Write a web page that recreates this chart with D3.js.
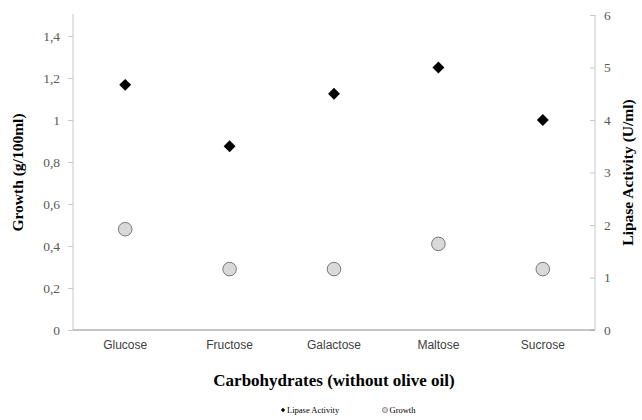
<!DOCTYPE html>
<html>
<head>
<meta charset="utf-8">
<script src="https://cdn.jsdelivr.net/npm/d3@7"></script>
<style>
  body { margin: 0; background: #fff; }
  svg { display: block; }
</style>
</head>
<body>
<div id="chart"></div>
<script>
// Carbohydrate source vs. growth and lipase activity
const categories = ["Glucose", "Fructose", "Galactose", "Maltose", "Sucrose"];
const lipaseActivity = [4.67, 3.5, 4.5, 5.0, 4.0];   // U/ml, right axis
const growth = [0.48, 0.29, 0.29, 0.41, 0.29];       // g/100ml, left axis
const leftTicks = [0, 0.2, 0.4, 0.6, 0.8, 1, 1.2, 1.4];
const rightTicks = [0, 1, 2, 3, 4, 5, 6];

const W = 642, H = 420;
const margin = { left: 73, right: 47, top: 15, bottom: 90 };
const x0 = margin.left, x1 = W - margin.right;
const yBottom = H - margin.bottom, yTop = margin.top;

const svg = d3.select("#chart").append("svg")
  .attr("width", W).attr("height", H);

const x = d3.scaleBand().domain(categories).range([x0, x1]);
const yL = d3.scaleLinear().domain([0, 1.5]).range([yBottom, yTop]);
const yR = d3.scaleLinear().domain([0, 6]).range([yBottom, yTop]);

const fmt = d => String(d).replace(".", ",");
const serif = "'Liberation Serif', 'Times New Roman', serif";
const sans = "'Liberation Sans', Arial, sans-serif";

// Left axis
const gL = svg.append("g").attr("transform", `translate(${x0},0)`)
  .call(d3.axisLeft(yL).tickValues(leftTicks).tickFormat(fmt).tickSize(5).tickPadding(8));
gL.select(".domain").attr("stroke", "#c8c8c8").attr("d", `M0,${yBottom}V${yTop - 1}`);
gL.selectAll(".tick line").attr("stroke", "#c8c8c8");
gL.selectAll(".tick text").attr("font-family", serif).attr("font-size", 13.5).attr("fill", "#595959");

// Right axis (ticks drawn inward)
const gR = svg.append("g").attr("transform", `translate(${x1},0)`)
  .call(d3.axisRight(yR).tickValues(rightTicks).tickFormat(d3.format("d")).tickSize(0).tickPadding(9));
gR.select(".domain").attr("stroke", "#c8c8c8").attr("d", `M0,${yBottom}V${yTop}`);
gR.selectAll(".tick").append("line").attr("x1", -5).attr("x2", 0).attr("stroke", "#c8c8c8");
gR.selectAll(".tick text").attr("font-family", serif).attr("font-size", 13.5).attr("fill", "#595959");

// Category axis
const gX = svg.append("g").attr("transform", `translate(0,${yBottom})`)
  .call(d3.axisBottom(x).tickSize(0).tickPadding(10));
gX.select(".domain").attr("stroke", "#8c8c8c").attr("d", `M${x0},0H${x1}`);
gX.selectAll(".tick text").attr("font-family", sans).attr("font-size", 12).attr("fill", "#404040");

// Lipase activity markers
const diamond = d3.symbol().type(d3.symbolDiamond2).size(90);
svg.append("g").selectAll("path").data(lipaseActivity).join("path")
  .attr("d", diamond)
  .attr("transform", (d, i) => `translate(${x(categories[i]) + x.bandwidth() / 2},${yR(d)})`)
  .attr("fill", "#000");

// Growth markers
svg.append("g").selectAll("circle").data(growth).join("circle")
  .attr("cx", (d, i) => x(categories[i]) + x.bandwidth() / 2)
  .attr("cy", d => yL(d))
  .attr("r", 6.8)
  .attr("fill", "#d9d9d9")
  .attr("stroke", "#595959")
  .attr("stroke-width", 0.8);

// Axis titles
svg.append("text").attr("transform", `translate(23,${(yTop + yBottom) / 2}) rotate(-90)`)
  .attr("text-anchor", "middle").attr("font-family", serif).attr("font-weight", "bold")
  .attr("font-size", 15.5).attr("fill", "#000").text("Growth (g/100ml)");

svg.append("text").attr("transform", `translate(633,${(yTop + yBottom) / 2}) rotate(-90)`)
  .attr("text-anchor", "middle").attr("font-family", serif).attr("font-weight", "bold")
  .attr("font-size", 15.5).attr("fill", "#000").text("Lipase Activity (U/ml)");

svg.append("text").attr("x", (x0 + x1) / 2).attr("y", 386)
  .attr("text-anchor", "middle").attr("font-family", serif).attr("font-weight", "bold")
  .attr("font-size", 17).attr("fill", "#000").text("Carbohydrates (without olive oil)");

// Legend
const lg = svg.append("g").attr("font-family", serif).attr("font-size", 8.5).attr("fill", "#000");
lg.append("path").attr("d", d3.symbol().type(d3.symbolDiamond2).size(12))
  .attr("transform", "translate(283,410)").attr("fill", "#000");
lg.append("text").attr("x", 287).attr("y", 413).text("Lipase Activity");
lg.append("circle").attr("cx", 385).attr("cy", 410).attr("r", 2.6)
  .attr("fill", "#d9d9d9").attr("stroke", "#595959").attr("stroke-width", 0.6);
lg.append("text").attr("x", 389.5).attr("y", 413).text("Growth");
</script>
</body>
</html>
